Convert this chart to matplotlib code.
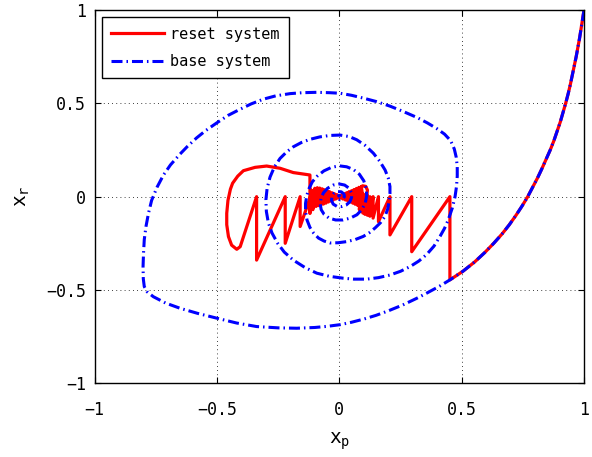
import matplotlib
matplotlib.use('Agg')
import matplotlib.pyplot as plt

# shared part of both trajectories, from the start point to the first reset
start_xy = [(1.0, 1.0), (0.994, 0.95), (0.988, 0.9), (0.982, 0.85), (0.975, 0.8),
            (0.968, 0.75), (0.96, 0.7), (0.952, 0.65), (0.944, 0.6),
            (0.935, 0.55), (0.925, 0.5), (0.914, 0.45), (0.903, 0.4),
            (0.89, 0.35), (0.877, 0.3), (0.862, 0.25), (0.845, 0.2),
            (0.828, 0.15), (0.81, 0.1), (0.79, 0.05), (0.77, 0.0),
            (0.747, -0.05), (0.722, -0.1), (0.695, -0.15), (0.665, -0.2),
            (0.631, -0.25), (0.594, -0.3), (0.553, -0.35), (0.505, -0.4),
            (0.452, -0.446)]

# reset system after the first reset
reset_xy = [(0.452, 0.0), (0.296, -0.295), (0.296, 0.0), (0.207, -0.205),
            (0.207, 0.0), (0.16, -0.134), (0.16, 0.0), (0.138, -0.115),
            (0.138, 0.0), (0.125, -0.105), (0.125, 0.0), (0.115, -0.1),
            (0.115, 0.005), (0.105, -0.095), (0.105, 0.01), (0.096, -0.088),
            (0.096, 0.015), (0.088, -0.08), (0.09, 0.03), (0.082, -0.07),
            (0.085, 0.045), (0.095, 0.058), (0.108, 0.055), (0.115, 0.035),
            (0.112, 0.0), (0.1, -0.04),
            # bowtie around the origin
            (0.09, 0.054), (0.085, -0.052), (0.08, 0.05), (0.075, -0.047),
            (0.07, 0.044), (0.065, -0.041), (0.06, 0.038), (0.055, -0.035),
            (0.05, 0.032), (0.045, -0.029), (0.04, 0.027), (0.035, -0.024),
            (0.03, 0.021), (0.025, -0.018), (0.02, 0.016), (0.015, -0.013),
            (0.01, 0.011), (0.005, -0.008), (0.0, 0.006), (-0.005, -0.008),
            (-0.01, 0.011), (-0.015, -0.013), (-0.02, 0.016), (-0.025, -0.018),
            (-0.03, 0.021), (-0.035, -0.024), (-0.04, 0.027), (-0.045, -0.029),
            (-0.05, 0.032), (-0.055, -0.035), (-0.06, 0.037), (-0.065, -0.04),
            (-0.07, 0.042), (-0.075, -0.044), (-0.08, 0.046), (-0.085, -0.048),
            (-0.09, 0.048), (-0.095, -0.05), (-0.1, 0.045), (-0.105, -0.06),
            (-0.11, 0.03),
            # teeth on the left, the loop and the top arc
            (-0.16, -0.16), (-0.16, 0.0), (-0.221, -0.25), (-0.221, 0.0),
            (-0.338, -0.34), (-0.338, 0.0), (-0.405, -0.268), (-0.419, -0.282),
            (-0.44, -0.26), (-0.453, -0.214), (-0.46, -0.15), (-0.46, -0.089),
            (-0.455, -0.02), (-0.445, 0.04), (-0.436, 0.072), (-0.415, 0.11),
            (-0.392, 0.139), (-0.344, 0.157), (-0.297, 0.164), (-0.242, 0.152),
            (-0.188, 0.129), (-0.12, 0.116), (-0.12, -0.09),
            # back to the origin
            (-0.115, 0.035), (-0.108, -0.07), (-0.1, 0.03), (-0.093, -0.05),
            (-0.085, 0.03), (-0.078, -0.04), (-0.07, 0.025), (-0.063, -0.03),
            (-0.055, 0.02), (-0.048, -0.022), (-0.04, 0.015), (-0.033, -0.015),
            (-0.025, 0.01), (-0.018, -0.008), (-0.01, 0.005), (0.0, 0.0)]

# base system after the shared part
base_xy = [(0.452, -0.446), (0.412, -0.478), (0.36, -0.515), (0.316, -0.545),
           (0.26, -0.58), (0.2, -0.612), (0.15, -0.636), (0.1, -0.656),
           (0.05, -0.673), (0.003, -0.686), (-0.05, -0.695), (-0.1, -0.701),
           (-0.174, -0.705), (-0.25, -0.703), (-0.338, -0.696),
           (-0.42, -0.677), (-0.501, -0.651), (-0.58, -0.625),
           (-0.651, -0.598), (-0.71, -0.57), (-0.76, -0.536), (-0.785, -0.51),
           (-0.797, -0.482), (-0.801, -0.44), (-0.802, -0.375),
           (-0.8, -0.3), (-0.797, -0.23), (-0.79, -0.16), (-0.78, -0.09),
           (-0.767, -0.02), (-0.745, 0.05), (-0.719, 0.115), (-0.69, 0.17),
           (-0.651, 0.228), (-0.62, 0.27), (-0.583, 0.315), (-0.545, 0.355),
           (-0.501, 0.395), (-0.455, 0.435), (-0.406, 0.468), (-0.36, 0.497),
           (-0.311, 0.522), (-0.26, 0.54), (-0.201, 0.552), (-0.15, 0.557),
           (-0.092, 0.559), (-0.04, 0.557), (0.003, 0.554), (0.05, 0.543),
           (0.098, 0.528), (0.15, 0.51), (0.207, 0.485), (0.26, 0.457),
           (0.316, 0.425), (0.36, 0.395), (0.398, 0.365), (0.43, 0.335),
           (0.455, 0.3), (0.47, 0.255), (0.478, 0.21), (0.482, 0.16),
           (0.482, 0.11), (0.479, 0.055), (0.473, 0.0), (0.462, -0.06),
           (0.445, -0.125), (0.43, -0.17), (0.412, -0.212), (0.387, -0.265),
           (0.357, -0.31), (0.325, -0.345), (0.289, -0.375), (0.25, -0.4),
           (0.207, -0.42), (0.16, -0.434), (0.112, -0.442), (0.06, -0.442),
           (0.016, -0.437), (-0.04, -0.427), (-0.092, -0.41), (-0.14, -0.38),
           (-0.188, -0.34), (-0.225, -0.297), (-0.252, -0.25),
           (-0.275, -0.195), (-0.29, -0.14), (-0.298, -0.08), (-0.3, -0.018),
           (-0.295, 0.045), (-0.283, 0.105), (-0.265, 0.16), (-0.242, 0.205),
           (-0.215, 0.24), (-0.188, 0.267), (-0.155, 0.29), (-0.12, 0.307),
           (-0.08, 0.32), (-0.038, 0.328), (0.003, 0.33), (0.04, 0.322),
           (0.071, 0.305), (0.105, 0.275), (0.139, 0.233), (0.165, 0.19),
           (0.187, 0.143), (0.2, 0.1), (0.207, 0.054), (0.207, 0.015),
           (0.204, -0.02), (0.198, -0.065), (0.187, -0.105), (0.168, -0.14),
           (0.146, -0.168), (0.122, -0.194), (0.098, -0.213), (0.065, -0.23),
           (0.03, -0.241), (-0.005, -0.247), (-0.038, -0.248),
           (-0.062, -0.238), (-0.085, -0.222), (-0.105, -0.195),
           (-0.12, -0.165), (-0.132, -0.125), (-0.138, -0.08),
           (-0.138, -0.036), (-0.133, 0.005), (-0.125, 0.04), (-0.11, 0.08),
           (-0.09, 0.11), (-0.063, 0.138), (-0.032, 0.157), (0.0, 0.165),
           (0.03, 0.16), (0.058, 0.145), (0.082, 0.12), (0.1, 0.085),
           (0.11, 0.045), (0.112, 0.005), (0.106, -0.035), (0.092, -0.07),
           (0.072, -0.097), (0.045, -0.115), (0.015, -0.125), (-0.015, -0.125),
           (-0.042, -0.115), (-0.062, -0.095), (-0.074, -0.07),
           (-0.078, -0.04), (-0.075, -0.01), (-0.065, 0.02), (-0.048, 0.045),
           (-0.025, 0.062), (0.0, 0.068), (0.022, 0.062), (0.04, 0.045),
           (0.05, 0.02), (0.05, -0.005), (0.043, -0.028), (0.028, -0.045),
           (0.01, -0.053), (-0.01, -0.052), (-0.025, -0.04), (-0.032, -0.02),
           (-0.03, 0.0), (-0.022, 0.018), (-0.008, 0.027), (0.008, 0.026),
           (0.019, 0.014), (0.021, 0.0), (0.015, -0.012), (0.003, -0.017),
           (-0.008, -0.01), (-0.008, 0.002), (0.0, 0.006), (0.004, 0.0)]

ticks = [-1, -0.5, 0, 0.5, 1]
tick_labels = ['\u22121', '\u22120.5', '0', '0.5', '1']

red_x, red_y = zip(*(start_xy + reset_xy))
blue_x, blue_y = zip(*(start_xy + base_xy[1:]))

plt.rcParams['font.family'] = ['DejaVu Sans Mono']
fig = plt.figure(figsize=(5.92, 4.57), dpi=100)
ax = fig.add_axes([0.1598, 0.1613, 0.8267, 0.8168])

ax.plot(red_x, red_y, color='red', lw=2.3, label='reset system')
ax.plot(blue_x, blue_y, color='blue', lw=2.2,
        linestyle=(0, (3.6, 1.3, 0.5, 1.3)), label='base system')

ax.set_xlim(-1, 1)
ax.set_ylim(-1, 1)
ax.set_xticks(ticks)
ax.set_yticks(ticks)
ax.set_xticklabels(tick_labels)
ax.set_yticklabels(tick_labels)
ax.tick_params(direction='in', length=4, width=0.8, top=True, right=True,
               labelsize=12)
ax.tick_params(axis='x', pad=13)
ax.tick_params(axis='y', pad=6)
ax.grid(True, color='black', linestyle=(0, (1, 4)), lw=0.6)
for s in ax.spines.values():
    s.set_linewidth(1.0)

ax.set_xlabel('x$_\\mathregular{p}$', fontsize=14, labelpad=8)
ax.set_ylabel('x$_\\mathregular{r}$', fontsize=14, labelpad=10)

leg = ax.legend(loc='upper left', bbox_to_anchor=(0.0145, 0.98),
                borderaxespad=0, fancybox=False, edgecolor='black',
                framealpha=1, fontsize=11, handlelength=3.5,
                handletextpad=0.4, borderpad=0.6, labelspacing=0.8)
leg.get_frame().set_linewidth(1.0)

fig.savefig('out.png', dpi=100)
